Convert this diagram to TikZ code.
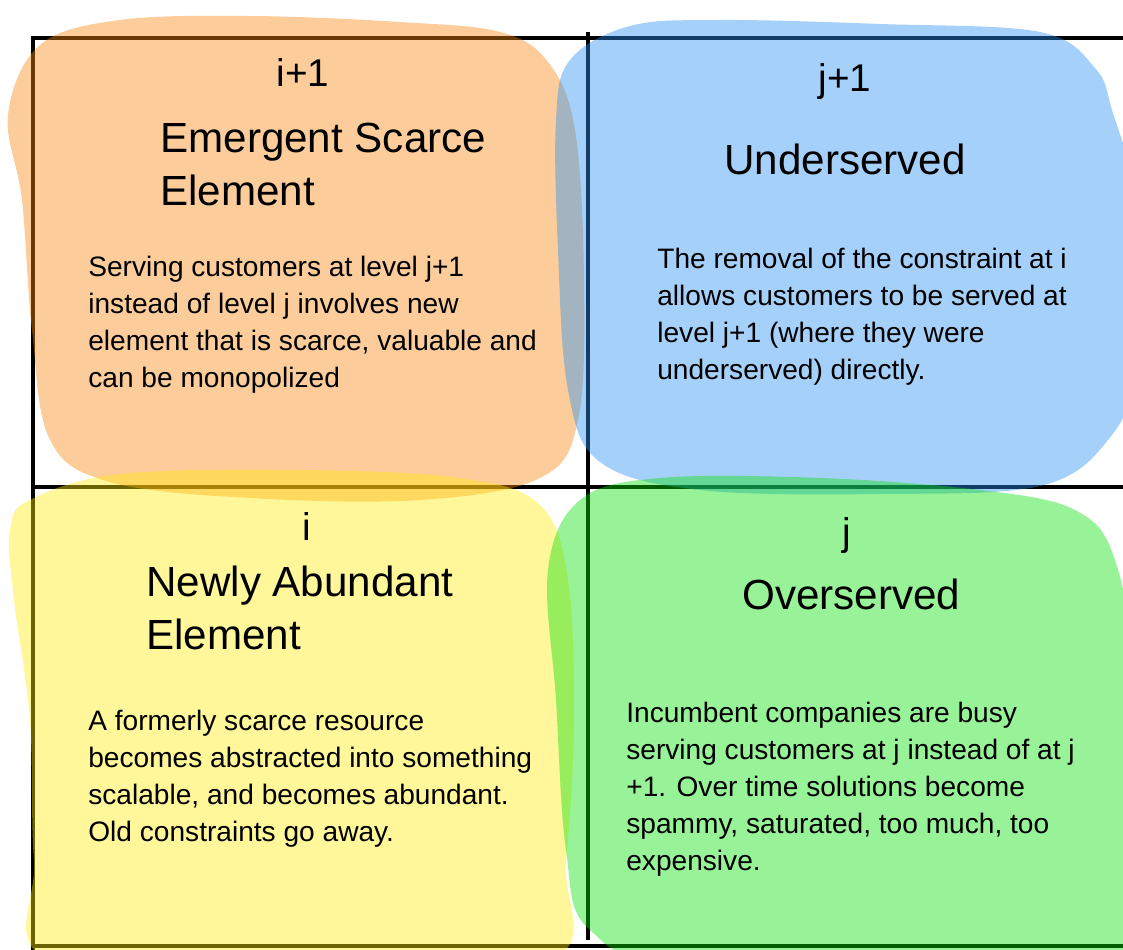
\documentclass[tikz,border=0pt]{standalone}
\usepackage{fontspec}
\setmainfont{Liberation Sans}

\definecolor{peach}{RGB}{247,137,17}
\definecolor{sky}{RGB}{41,143,243}
\definecolor{lemon}{RGB}{255,235,11}
\definecolor{lime}{RGB}{10,224,10}

\tikzset{
	frame/.style={line width=2.2pt},
	blob/.style={fill opacity=.42},
	lbl/.style={font=\fontsize{22}{26}\selectfont, inner sep=0pt, anchor=base},
	heading/.style={font=\fontsize{24}{30}\selectfont, align=left, anchor=base west, inner sep=0pt},
	blurb/.style={font=\fontsize{16}{21}\selectfont, align=left, anchor=base west, inner sep=0pt},
}

\begin{document}
\begin{tikzpicture}[x=0.02cm,y=-0.02cm]
		\useasboundingbox (0,0) rectangle (1123,950);
		\clip (0,0) rectangle (1123,950);
		%grid
			\foreach \y in {38,487,946}{
				\draw[frame] (35,\y) -- (1130,\y);
				}
			\draw[frame] (33,36) -- (33,960);
			\draw[frame] (588,32) -- (588,940);
		% coloured patches
			\fill[blob, fill=peach] plot[smooth cycle, tension=.6] coordinates {
				(40,45) (120,20) (250,16) (400,22) (500,32) (548,62) (575,130) (584,280)
				(578,420) (540,478) (420,500) (250,498) (110,482) (50,440) (32,330)
				(22,200) (8,115)};
			\fill[blob, fill=sky] plot[smooth cycle, tension=.6] coordinates {
				(570,60) (630,26) (720,20) (880,24) (1040,32) (1095,68) (1112,110)
				(1134,200) (1134,370) (1108,440) (1040,486) (880,494) (700,490)
				(600,462) (568,390) (558,250) (556,120)};
			\fill[blob, fill=lemon] plot[smooth cycle, tension=.6] coordinates {
				(30,500) (120,474) (300,470) (460,478) (540,505) (568,580) (574,720)
				(566,860) (550,960) (300,965) (50,960) (34,860) (30,720) (14,600)
				(10,530)};
			\fill[blob, fill=lime] plot[smooth cycle, tension=.6] coordinates {
				(580,500) (660,478) (820,478) (980,490) (1075,510) (1115,560)
				(1132,680) (1135,965) (700,965) (590,930) (566,850) (556,700)
				(548,570)};
		% quadrant i+1
			\node[lbl] (lblScarce) at (303,86) {i+1};
			\node[heading] (headScarce) at (160,205) {Emergent Scarce\\Element};
			\node[blurb] (textScarce) at (88,387) {Serving customers at level j+1\\instead of level j involves new\\element that is scarce, valuable and\\can be monopolized};
		% quadrant j+1
			\node[lbl] (lblUnder) at (845,91) {j+1};
			\node[heading] (headUnder) at (724,174) {Underserved};
			\node[blurb] (textUnder) at (657,379) {The removal of the constraint at i\\allows customers to be served at\\level j+1 (where they were\\underserved) directly.};
		% quadrant i
			\node[lbl] (lblAbund) at (307,540) {i};
			\node[heading] (headAbund) at (146,649) {Newly Abundant\\Element};
			\node[blurb] (textAbund) at (88,841) {A formerly scarce resource\\becomes abstracted into something\\scalable, and becomes abundant.\\Old constraints go away.};
		% quadrant j
			\node[lbl] (lblOver) at (847,545) {j};
			\node[heading] (headOver) at (742,609) {Overserved};
			\node[blurb] (textOver) at (626,870) {Incumbent companies are busy\\serving customers at j instead of at j\\+1. Over time solutions become\\spammy, saturated, too much, too\\expensive.};
	\end{tikzpicture}
\end{document}
